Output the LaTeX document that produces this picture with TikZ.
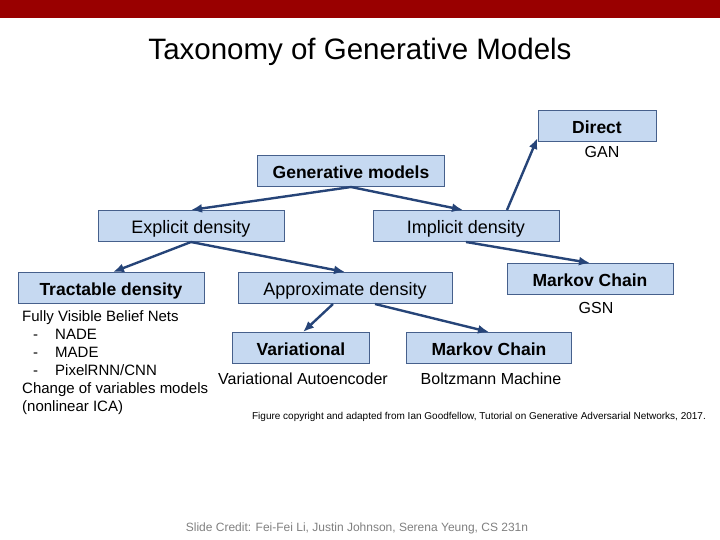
\documentclass[tikz,border=0pt]{standalone}
\usepackage{fontspec}
\setmainfont{Liberation Sans}
\usetikzlibrary{arrows.meta}
\definecolor{slidered}{RGB}{153, 0, 0}
\definecolor{boxfill}{RGB}{198, 217, 241}
\definecolor{boxline}{RGB}{70, 96, 140}
\definecolor{arrblue}{RGB}{38, 68, 120}
\tikzset{box/.style = {draw = boxline, fill = boxfill, line width = 1pt,
                       minimum height = 31pt, inner sep = 0,
                       text height = 15pt, text depth = 0pt,
                       font = \fontsize{18}{20}\selectfont}}
\tikzset{bbox/.style = {box, font = \fontsize{17.5}{20}\selectfont\bfseries}}
\tikzset{arr/.style = {-{Latex[length = 11pt, width = 9pt]}, arrblue, line width = 2.4pt}}
\tikzset{note/.style = {font = \fontsize{16}{18}\selectfont, inner sep = 0}}

\begin{document}
\begin{tikzpicture}[x = 1pt, y = -1pt]
      \useasboundingbox (0, 0) rectangle (720, 540);
      \fill [slidered] (0, 0) rectangle (720, 18);
      \node [font = \fontsize{29.5}{32}\selectfont] (title) at (360, 52) {Taxonomy of Generative Models};

      \node [bbox, minimum width = 118pt] (direct) at (597, 126) {Direct};
      \node [note] (gan) at (602, 152) {GAN};
      \node [bbox, minimum width = 187pt] (gen) at (351, 171) {Generative models};
      \node [box, minimum width = 186pt] (expl) at (191, 226) {Explicit density};
      \node [box, minimum width = 186pt] (impl) at (466, 226) {Implicit density};
      \node [bbox, minimum width = 186pt] (tract) at (111, 288) {Tractable density};
      \node [box, minimum width = 214pt] (approx) at (345, 288) {Approximate density};
      \node [bbox, minimum width = 166pt] (mcgsn) at (590, 279) {Markov Chain};
      \node [note] (gsn) at (596, 308) {GSN};
      \node [bbox, minimum width = 137pt] (var) at (301, 348) {Variational};
      \node [bbox, minimum width = 165pt] (mcbm) at (489, 348) {Markov Chain};
      \node [note] (vae) at (303, 379) {Variational Autoencoder};
      \node [note] (bm) at (491, 379) {Boltzmann Machine};
      \node [note, font = \fontsize{15}{18}\selectfont, anchor = north west, align = left] (fvbn) at (22, 310)
        {Fully Visible Belief Nets\\
         \hspace*{11pt}-\hspace*{17pt}NADE\\
         \hspace*{11pt}-\hspace*{17pt}MADE\\
         \hspace*{11pt}-\hspace*{17pt}PixelRNN/CNN\\
         Change of variables models\\
         (nonlinear ICA)};

      \draw [arr] (gen.south) -- (expl.north);
      \draw [arr] (gen.south) -- ([xshift = -3pt]impl.north);
      \draw [arr] (expl.south) -- ([xshift = 2pt]tract.north);
      \draw [arr] (expl.south) -- (approx.north);
      \draw [arr] ([xshift = 41pt]impl.north) -- ([yshift = 4pt]direct.south west);
      \draw [arr] (impl.south) -- (mcgsn.north);
      \draw [arr] ([xshift = -12pt]approx.south) -- ([xshift = 2pt]var.north);
      \draw [arr] ([xshift = 30pt]approx.south) -- (mcbm.north);

      \node [font = \fontsize{10}{12}\selectfont] (credit1) at (479, 417)
        {Figure copyright and adapted from Ian Goodfellow, Tutorial on Generative Adversarial Networks, 2017.};
      \node [font = \fontsize{12}{14}\selectfont, text = gray] (credit2) at (357, 528)
        {Slide Credit: Fei-Fei Li, Justin Johnson, Serena Yeung, CS 231n};
    \end{tikzpicture}
\end{document}
